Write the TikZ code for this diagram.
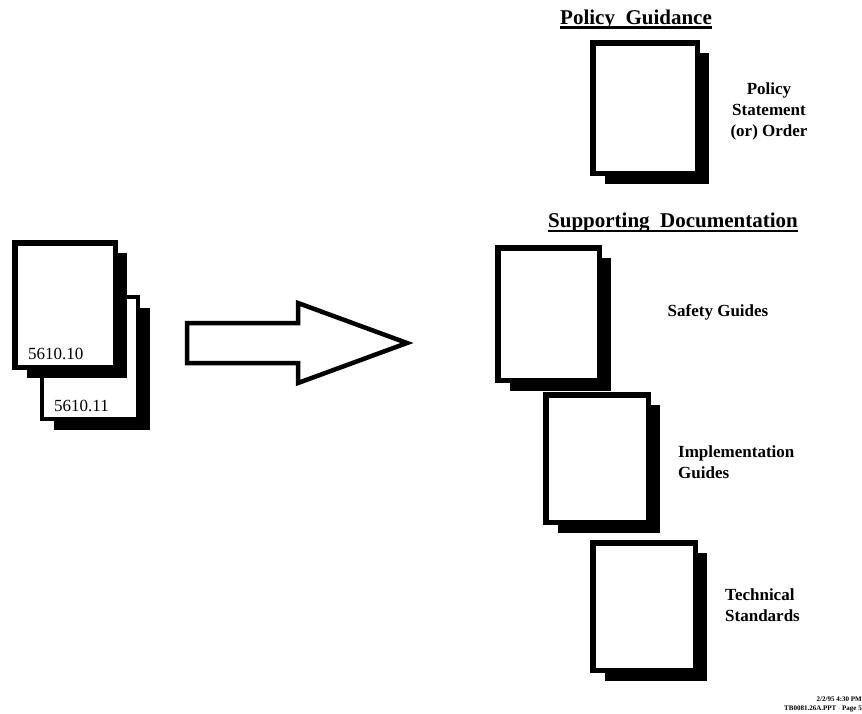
\documentclass[tikz,border=0pt]{standalone}
\usepackage{fontspec}
\setmainfont{Liberation Serif}
\usetikzlibrary{shadows}
\begin{document}
\begin{tikzpicture}[x=1pt,y=-1pt,
  doc/.style={draw=black, line width=5.5pt, fill=white, inner sep=0pt,
    drop shadow={shadow xshift=12pt, shadow yshift=-10.5pt, fill=black, opacity=1}},
  hdr/.style={font=\fontsize{21}{24}\selectfont\bfseries, inner sep=0pt, anchor=base},
  lbl/.style={font=\fontsize{17}{21}\selectfont\bfseries, align=center, inner sep=0pt},
  num/.style={font=\fontsize{17}{20}\selectfont, inner sep=0pt, anchor=base west},
  foot/.style={font=\fontsize{7}{9}\selectfont\bfseries, align=right, inner sep=0pt, anchor=south east},
  arrowline/.style={draw=black, line width=4.5pt, fill=white, line join=miter}]
\useasboundingbox (0,0) rectangle (862,713);

% left documents
\node[doc, line width=3.5pt, minimum width=96pt, minimum height=122pt] (d2) at (90,358) {};
\node[doc, minimum width=100.5pt, minimum height=124.5pt] (d1) at (65,305) {};
\node[num] (n1) at (28,359) {5610.10};
\node[num] (n2) at (54,411) {5610.11};

% big arrow
\draw[arrowline] (187,323) -- (298,323) -- (298,303) -- (407,343) -- (298,383) -- (298,363) -- (187,363) -- cycle;

% policy guidance
\node[hdr] (pg) at (636,24) {Policy\ \ Guidance};
\draw[line width=2.5pt] ([yshift=-3.5pt]pg.base west) -- ([yshift=-3.5pt]pg.base east);
\node[doc, minimum width=104.5pt, minimum height=130.5pt] (pol) at (645,108) {};
\node[lbl] (polt) at (769,111) {Policy\\Statement\\(or) Order};

% supporting documentation
\node[hdr] (sd) at (673,227) {Supporting\ \ Documentation};
\draw[line width=2.5pt] ([yshift=-4pt]sd.base west) -- ([yshift=-4pt]sd.base east);

\node[doc, minimum width=101.5pt, minimum height=132.5pt] (safe) at (548.5,314) {};
\node[lbl] (safet) at (718,312) {Safety Guides};

\node[doc, minimum width=102.5pt, minimum height=127.5pt] (impl) at (597,458.5) {};
\node[lbl, align=left, anchor=west] (implt) at (678,462) {Implementation\\Guides};

\node[doc, minimum width=102.5pt, minimum height=127.5pt] (tech) at (644,606.5) {};
\node[lbl, align=left, anchor=west] (techt) at (725,605) {Technical\\Standards};

% footer
\node[foot] (ft) at (862,712) {2/2/95 4:30 PM\\TB0081.26A.PPT $\cdot$ Page 5};
\end{tikzpicture}
\end{document}
